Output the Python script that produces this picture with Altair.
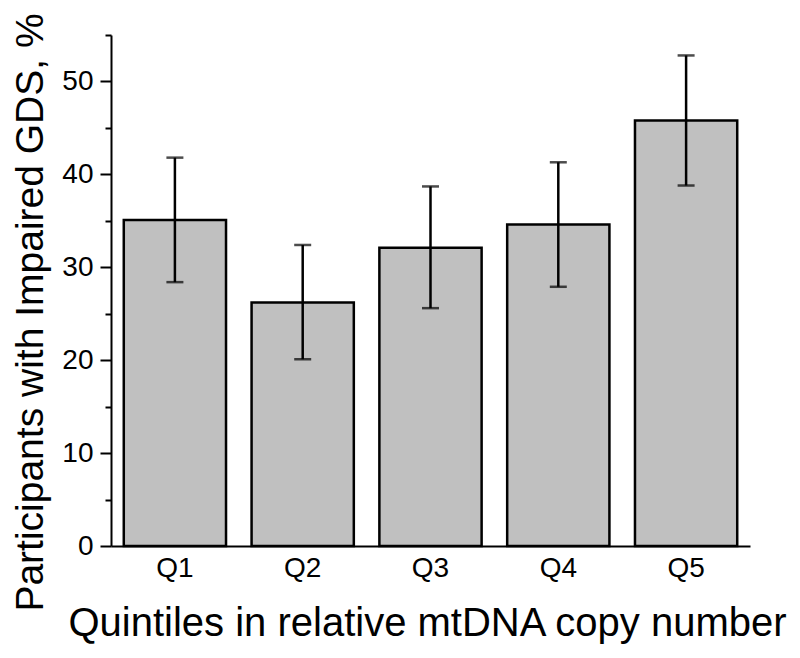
import altair as alt
import pandas as pd

quintiles = ["Q1", "Q2", "Q3", "Q4", "Q5"]
values = [35.1, 26.2, 32.1, 34.6, 45.8]
err_low = [28.4, 20.1, 25.6, 27.9, 38.8]
err_high = [41.8, 32.4, 38.7, 41.3, 52.8]
major_ticks = [0, 10, 20, 30, 40, 50]
minor_ticks = [5, 15, 25, 35, 45, 55]

df = pd.DataFrame({"q": quintiles, "v": values, "lo": err_low, "hi": err_high})

FONT = "Liberation Sans"
yscale = alt.Scale(domain=[0, 55], nice=False, zero=True)
xscale = alt.Scale(paddingInner=0.2, paddingOuter=0.1)

xaxis = alt.Axis(
    title="Quintiles in relative mtDNA copy number",
    titleFont=FONT, titleFontSize=40, titleFontWeight="normal", titleColor="black",
    titleX=316, titleY=89, titleBaseline="alphabetic", titleAnchor="middle", titleAlign="center",
    labelFont=FONT, labelFontSize=28, labelColor="black", labelAngle=0, labelPadding=8,
    ticks=False, domainColor="black", domainWidth=2, grid=False,
)
yaxis = alt.Axis(
    title="Participants with Impaired GDS, %",
    titleFont=FONT, titleFontSize=39, titleFontWeight="normal", titleColor="black",
    titleAngle=270, titleX=-69, titleY=277, titleAlign="center", titleBaseline="alphabetic",
    labelFont=FONT, labelFontSize=28, labelColor="black", labelPadding=7,
    values=major_ticks, tickSize=11, tickWidth=2, tickColor="black",
    domainColor="black", domainWidth=2, grid=False,
)
yaxis_minor = alt.Axis(
    orient="left", title=None, labels=False, domain=False, grid=False,
    values=minor_ticks, tickSize=6, tickWidth=2, tickColor="black",
)

base = alt.Chart(df)
bars = base.mark_bar(fill="#c0c0c0", stroke="black", strokeWidth=2.5).encode(
    x=alt.X("q:N", scale=xscale, axis=xaxis, sort=quintiles),
    y=alt.Y("v:Q", scale=yscale, axis=yaxis),
)
rules = base.mark_rule(color="black", strokeWidth=2.5).encode(
    x=alt.X("q:N", sort=quintiles),
    y=alt.Y("lo:Q", axis=None),
    y2="hi:Q",
)
caps_hi = base.mark_tick(color="black", size=17, thickness=2.5, orient="horizontal").encode(
    x=alt.X("q:N", sort=quintiles),
    y=alt.Y("hi:Q", axis=yaxis_minor),
)
caps_lo = base.mark_tick(color="black", size=17, thickness=2.5, orient="horizontal").encode(
    x=alt.X("q:N", sort=quintiles),
    y=alt.Y("lo:Q", axis=None),
)

chart = (
    alt.layer(bars, rules, caps_hi, caps_lo)
    .resolve_axis(y="independent")
    .resolve_scale(y="shared")
    .properties(
        width=639, height=511,
        autosize=alt.AutoSizeParams(type="none"),
        padding={"left": 103, "top": 27, "right": 42, "bottom": 100},
        background="white",
    )
    .configure_view(stroke=None)
)
chart.save("out.html", embed_options={"renderer": "svg", "actions": False})
